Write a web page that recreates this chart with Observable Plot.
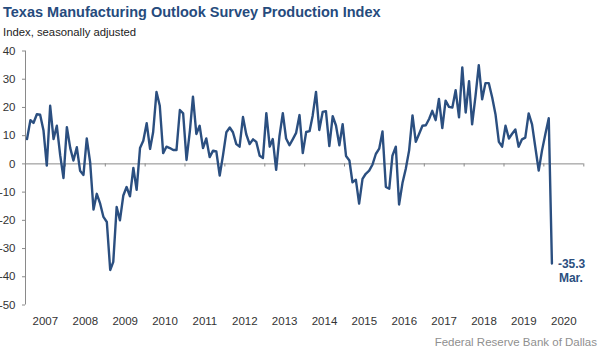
<!DOCTYPE html>
<html>
<head>
<meta charset="utf-8">
<script src="https://cdn.jsdelivr.net/npm/d3@7"></script>
<script src="https://cdn.jsdelivr.net/npm/@observablehq/plot@0.6"></script>
<style>
  body { margin: 0; background: #fff; font-family: "Liberation Sans", Arial, sans-serif; }
  #wrap { position: relative; width: 616px; height: 359px; overflow: hidden; background: #fff; }
  #wrap svg { position: absolute; left: 0; top: 0; }
  .title { position: absolute; left: 3px; top: 4.7px; font-size: 14.5px; line-height: 14.5px; font-weight: bold; color: #264b7d; white-space: nowrap; z-index: 2; }
  .subtitle { position: absolute; left: 3px; top: 27.4px; font-size: 11.3px; line-height: 11.3px; color: #222; white-space: nowrap; z-index: 2; }
  .caption { position: absolute; right: 19px; top: 337px; font-size: 11.5px; line-height: 11.5px; color: #8f8f8f; white-space: nowrap; z-index: 2; }
</style>
</head>
<body>
<div id="wrap">
  <div class="title">Texas Manufacturing Outlook Survey Production Index</div>
  <div class="subtitle">Index, seasonally adjusted</div>
  <div class="caption">Federal Reserve Bank of Dallas</div>
</div>
<script>
// Monthly production index, Jan 2007 – Mar 2020
const startYear = 2007;
const startMonth = 0; // January
const values = [
  // 2007
  8.8, 15.5, 14.5, 17.6, 17.4, 11.8, -0.6, 20.6, 8.8, 13.5, 3.0, -5.0,
  // 2008
  13.0, 5.6, 1.2, 5.9, -2.4, -3.9, 9.0, 0.6, -16.2, -10.6, -14.1, -18.8,
  // 2009
  -20.6, -37.6, -34.7, -15.3, -20.0, -11.2, -8.2, -11.5, -1.4, -9.2, 5.6, 8.2,
  // 2010
  14.4, 5.3, 11.2, 25.5, 20.6, 3.8, 6.1, 5.6, 4.9, 4.9, 19.1, 17.9,
  // 2011
  1.4, 11.8, 23.8, 10.6, 13.5, 5.6, 9.0, 2.4, 4.7, 4.4, -4.1, 3.0,
  // 2012
  11.2, 12.9, 11.2, 7.0, 6.1, 16.6, 10.5, 7.0, 8.7, 7.8, 2.9, 2.1,
  // 2013
  18.0, 6.1, 8.8, -2.1, 9.7, 18.0, 9.0, 6.6, 8.8, 11.0, 17.3, 3.8,
  // 2014
  11.3, 11.6, 17.0, 25.5, 12.0, 18.4, 18.7, 6.3, 16.9, 13.6, 6.6, 14.1,
  // 2015
  2.8, 1.2, -6.5, -5.6, -14.1, -5.3, -3.5, -2.4, -0.2, 3.5, 5.4, 11.5,
  // 2016
  -8.2, -8.8, 2.9, 6.1, -14.4, -6.8, -1.8, 4.8, 17.2, 7.8, 10.7, 13.5,
  // 2017
  13.7, 16.0, 18.8, 15.5, 23.0, 12.7, 22.4, 20.2, 20.0, 26.1, 16.5, 34.2,
  // 2018
  18.2, 29.3, 14.0, 24.0, 35.0, 22.9, 28.6, 28.6, 23.5, 17.6, 7.8, 6.1,
  // 2019
  13.5, 9.0, 10.6, 12.2, 6.1, 8.7, 9.3, 17.9, 14.0, 5.9, -2.4, 4.7,
  // 2020
  10.6, 16.2, -35.3
];
const yTicks = [40, 30, 20, 10, 0, -10, -20, -30, -40, -50];
const yearLabels = ["2007","2008","2009","2010","2011","2012","2013","2014","2015","2016","2017","2018","2019","2020"];
const yearBounds = ["2007","2008","2009","2010","2011","2012","2013","2014","2015","2016","2017","2018","2019","2020","2021"];
const lastValueLabel = "-35.3";
const lastMonthLabel = "Mar.";

const lineColor = "#2b4f80";
const axisColor = "#8a8a8a";

const data = values.map((v, i) => ({ date: new Date(startYear, startMonth + i, 15), value: v }));
const last = data[data.length - 1];
const boundDates = yearBounds.map(y => new Date(+y, 0, 1));
const midDates = yearLabels.map(y => new Date(+y, 6, 2));

const chart = Plot.plot({
  width: 616,
  height: 359,
  marginTop: 50.5,
  marginBottom: 54.5,
  marginLeft: 25,
  marginRight: 32.7,
  x: { type: "time", domain: [boundDates[0], boundDates[boundDates.length - 1]] },
  y: { domain: [-50, 40] },
  style: { fontFamily: "'Liberation Sans', Arial, sans-serif", fontSize: "11.5px", color: "#333", background: "transparent" },
  marks: [
    Plot.ruleX([boundDates[0]], { stroke: axisColor, strokeWidth: 1 }),
    Plot.axisY({ ticks: yTicks, tickSize: 3, tickPadding: 7, stroke: axisColor, fill: "#333", tickFormat: d => String(d), label: null }),
    Plot.ruleY([0], { stroke: axisColor, strokeWidth: 1 }),
    Plot.ruleX(boundDates, { x: d => d, y1: 0, y2: -1.1, stroke: axisColor, strokeWidth: 1 }),
    Plot.axisX({ ticks: midDates, tickSize: 0, tickPadding: 12, tickFormat: d3.timeFormat("%Y"), fill: "#333", label: null }),
    Plot.lineY(data, { x: "date", y: "value", stroke: lineColor, strokeWidth: 2.4, strokeLinejoin: "round" }),
    Plot.text([last], { x: "date", y: "value", text: () => lastValueLabel, dx: 6, dy: 1, textAnchor: "start", fill: lineColor, fontWeight: "bold", fontSize: 12 }),
    Plot.text([last], { x: "date", y: "value", text: () => lastMonthLabel, dx: 7, dy: 15, textAnchor: "start", fill: lineColor, fontWeight: "bold", fontSize: 12 })
  ]
});
document.getElementById("wrap").appendChild(chart);
</script>
</body>
</html>
